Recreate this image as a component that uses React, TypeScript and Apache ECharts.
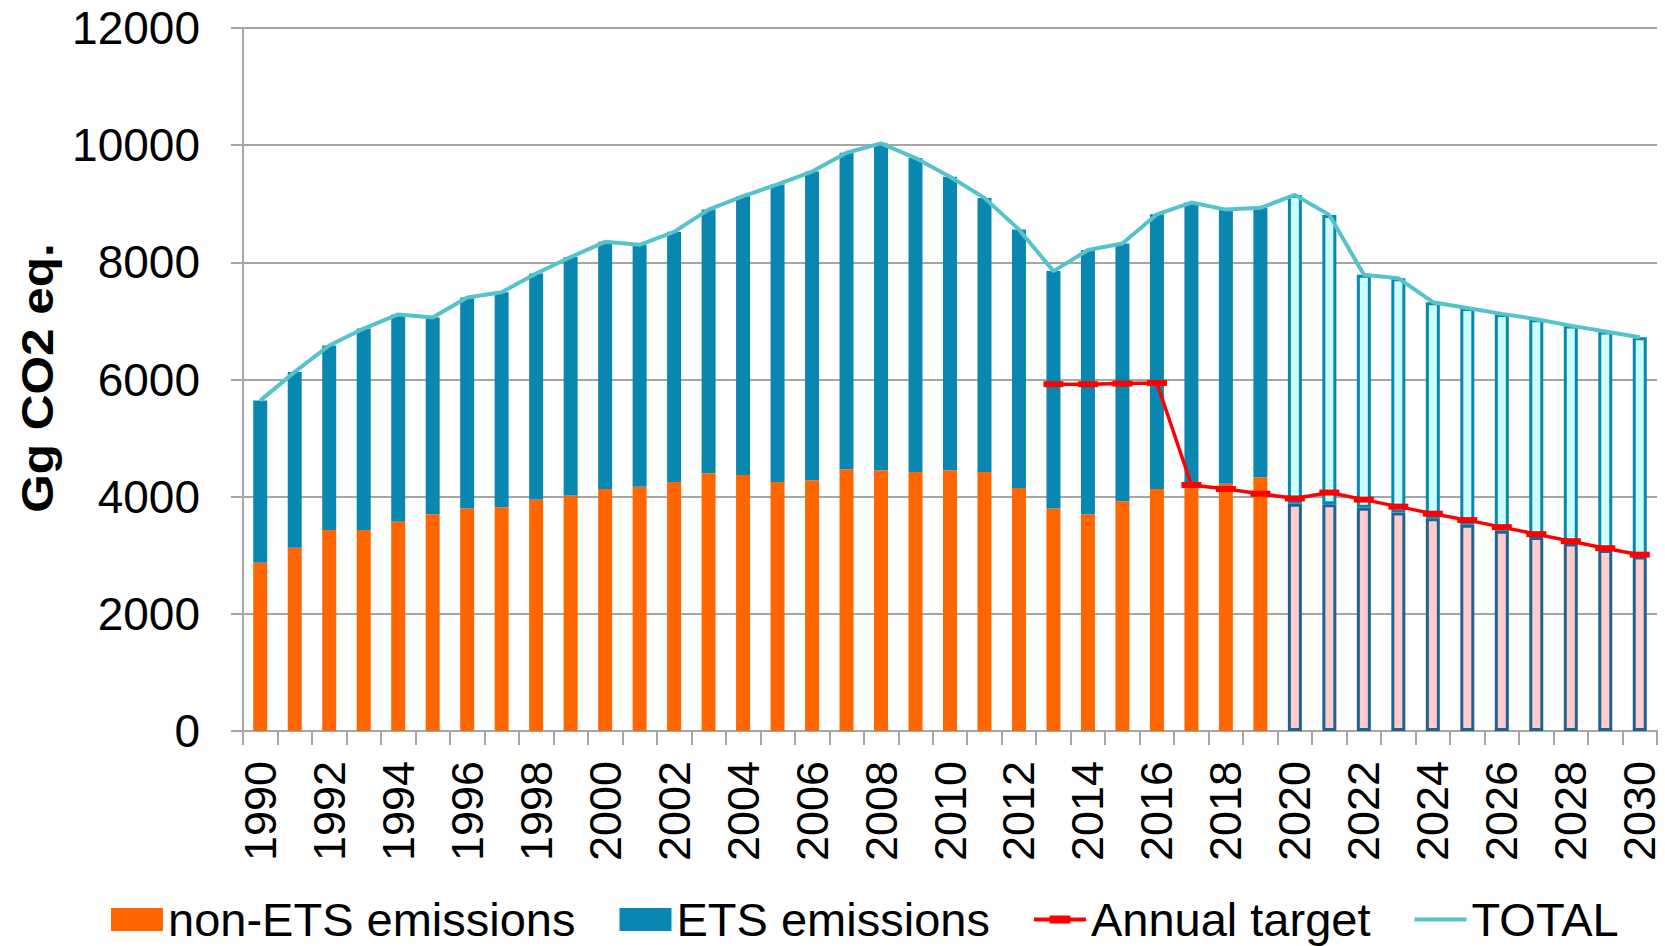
import React, { useEffect, useRef } from "react";
import * as echarts from "echarts";

const years: string[] = [
  "1990","1991","1992","1993","1994","1995","1996","1997","1998","1999",
  "2000","2001","2002","2003","2004","2005","2006","2007","2008","2009",
  "2010","2011","2012","2013","2014","2015","2016","2017","2018","2019",
  "2020","2021","2022","2023","2024","2025","2026","2027","2028","2029","2030",
];

const nonEts: number[] = [
  2870, 3130, 3430, 3430, 3570, 3700, 3800, 3820, 3950, 4020,
  4130, 4170, 4250, 4400, 4370, 4250, 4280, 4470, 4450, 4420,
  4450, 4420, 4150, 3800, 3700, 3920, 4130, 4200, 4220, 4330,
  3880, 3870, 3810, 3730, 3630, 3520, 3420, 3310, 3200, 3090, 2980,
];

const ets: number[] = [
  2770, 3000, 3150, 3440, 3540, 3360, 3600, 3670, 3860, 4070,
  4220, 4130, 4270, 4500, 4760, 5080, 5270, 5400, 5580, 5360,
  5010, 4680, 4410, 4050, 4510, 4400, 4690, 4820, 4680, 4600,
  5270, 4940, 3980, 4000, 3690, 3700, 3700, 3720, 3720, 3730, 3740,
];

const total: number[] = [
  5640, 6130, 6580, 6870, 7110, 7060, 7400, 7490, 7810, 8090,
  8350, 8300, 8520, 8900, 9130, 9330, 9550, 9870, 10030, 9780,
  9460, 9100, 8560, 7850, 8210, 8320, 8820, 9020, 8900, 8930,
  9150, 8810, 7790, 7730, 7320, 7220, 7120, 7030, 6920, 6820, 6720,
];

const annualTarget: (number | null)[] = [
  null, null, null, null, null, null, null, null, null, null,
  null, null, null, null, null, null, null, null, null, null,
  null, null, null, 5920, 5920, 5930, 5940, 4200, 4130, 4050,
  3970, 4070, 3950, 3830, 3710, 3600, 3480, 3360, 3240, 3120, 3010,
];

const yTicks: number[] = [0, 2000, 4000, 6000, 8000, 10000, 12000];

const firstProjectedYear = "2020";
const yAxisTitle = "Gg CO2 eq.";

const FONT = "'Liberation Sans', Arial, sans-serif";

export default function App() {
  const ref = useRef<HTMLDivElement>(null);

  useEffect(() => {
    if (!ref.current) return;
    const chart = echarts.init(ref.current, null, { renderer: "svg" });
    const projStart = years.indexOf(firstProjectedYear);

    const nonEtsData = nonEts.map((v, i) =>
      i >= projStart
        ? { value: v, itemStyle: { color: "#FFCCCC", borderColor: "#1F6394", borderWidth: 3 } }
        : v
    );
    const etsData = ets.map((v, i) =>
      i >= projStart
        ? { value: v, itemStyle: { color: "#CCFFFF", borderColor: "#0A87B0", borderWidth: 3 } }
        : v
    );

    chart.setOption({
      animation: false,
      textStyle: { fontFamily: FONT },
      grid: { left: 243, right: 8, top: 28, bottom: 215, containLabel: false },
      graphic: [
        {
          type: "text",
          x: 37,
          y: 378,
          rotation: Math.PI / 2,
          scaleX: 1.1,
          style: {
            text: yAxisTitle,
            fontSize: 45,
            fontWeight: "bold",
            fontFamily: FONT,
            fill: "#000",
            align: "center",
            verticalAlign: "middle",
          },
        },
      ],
      legend: {
        left: 106,
        top: 891,
        itemWidth: 52,
        itemHeight: 23,
        itemGap: 44,
        textStyle: { fontSize: 47, lineHeight: 47, color: "#000", fontFamily: FONT },
        data: [
          { name: "non-ETS emissions", icon: "rect" },
          { name: "ETS emissions", icon: "rect" },
          { name: "Annual target", icon: "path://M0,10 H53 V14 H0 Z M16,8 H37 V16 H16 Z" },
          { name: "TOTAL", icon: "path://M0,0 H53 V4 H0 Z" },
        ],
      },
      xAxis: {
        type: "category",
        data: years,
        boundaryGap: true,
        axisLine: { lineStyle: { color: "#A6A6A6", width: 2 } },
        axisTick: { show: true, length: 14, interval: 0, lineStyle: { color: "#A6A6A6", width: 2 } },
        axisLabel: {
          interval: 1,
          rotate: 90,
          fontSize: 45,
          color: "#000",
          margin: 30,
          fontFamily: FONT,
        },
      },
      yAxis: {
        type: "value",
        min: yTicks[0],
        max: yTicks[yTicks.length - 1],
        interval: 2000,
        axisLine: { show: true, lineStyle: { color: "#A6A6A6", width: 2 } },
        axisTick: { show: true, length: 12, lineStyle: { color: "#A6A6A6", width: 2 } },
        axisLabel: {
          fontSize: 46,
          color: "#000",
          margin: 43,
          fontFamily: FONT,
          formatter: (v: number) => String(v),
        },
        splitLine: { show: true, lineStyle: { color: "#A6A6A6", width: 2 } },
      },
      series: [
        {
          name: "non-ETS emissions",
          type: "bar",
          stack: "em",
          barWidth: 14,
          itemStyle: { color: "#FF6600" },
          data: nonEtsData,
        },
        {
          name: "ETS emissions",
          type: "bar",
          stack: "em",
          barWidth: 14,
          itemStyle: { color: "#0A87B0" },
          data: etsData,
        },
        {
          name: "Annual target",
          type: "line",
          data: annualTarget,
          connectNulls: false,
          symbol: "rect",
          symbolSize: [20, 6],
          itemStyle: { color: "#FF0000" },
          lineStyle: { color: "#FF0000", width: 3.5 },
          z: 5,
        },
        {
          name: "TOTAL",
          type: "line",
          data: total,
          symbol: "none",
          itemStyle: { color: "#55C3CC" },
          lineStyle: { color: "#55C3CC", width: 4 },
          z: 4,
        },
      ],
    });

    return () => chart.dispose();
  }, []);

  return (
    <div
      ref={ref}
      style={{ position: "fixed", left: 0, top: 0, width: 1665, height: 946, background: "#fff" }}
    />
  );
}
